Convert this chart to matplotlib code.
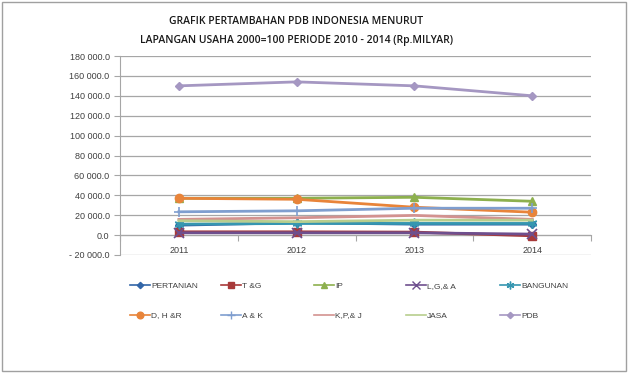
import matplotlib
matplotlib.use('Agg')
import matplotlib.pyplot as plt
from matplotlib.patches import Rectangle
from matplotlib.lines import Line2D
from matplotlib.ticker import FuncFormatter, FixedLocator
import numpy as np

# data (Rp. milyar)
years = ['2011', '2012', '2013', '2014']
series = ['PERTANIAN', 'T &G', 'IP', 'L,G,& A', 'BANGUNAN',
          'D, H &R', 'A & K', 'K,P,& J', 'JASA', 'PDB']
pertanian = [10000, 12400, 11000, 11000]
t_g = [3300, 3300, 3000, -700]
ip = [37000, 37000, 38000, 34000]
lga = [2300, 2300, 2300, 1000]
bangunan = [11000, 11700, 11700, 11700]
dhr = [37000, 36000, 28000, 23000]
a_k = [23400, 24400, 27000, 27000]
kpj = [15800, 17400, 19800, 15800]
jasa = [14400, 13500, 15000, 15000]
pdb = [150000, 154000, 150000, 140000]
values = [pertanian, t_g, ip, lga, bangunan, dhr, a_k, kpj, jasa, pdb]

colors = ['#3266A8', '#A83A3A', '#8DB04E', '#6E4F8E', '#3596B0',
          '#E8843A', '#7F9ECF', '#D39290', '#B8CE8E', '#A597C2']
markers = ['D', 's', '^', 'x', (6, 2, 0), 'o', '+', None, None, 'D']
msizes = [4, 6, 6, 7, 7, 6, 7, 0, 0, 4]

plt.rcParams['font.family'] = ['Liberation Sans', 'DejaVu Sans']

fig = plt.figure(figsize=(6.4, 3.85), dpi=100)
fig.patches.append(Rectangle((2/640, 1-371/385), 624/640, 369/385, transform=fig.transFigure,
                             fill=False, edgecolor='#A0A0A0', lw=1))

ax = fig.add_axes([120/640, 1-255/385, 471/640, 199/385])
x = np.arange(len(years)) + 0.5
for i in range(len(series)):
    ax.plot(x, values[i], color=colors[i], lw=2, marker=markers[i], ms=msizes[i],
            mew=1.2 if markers[i] in ('x', '+', (6, 2, 0)) else 1,
            zorder=3)

ax.set_xlim(0, 4)
ax.set_ylim(-20000, 180000)
ax.set_yticks(np.arange(-20000, 180001, 20000))

def fmt(v, pos):
    if v == 0:
        return '0.0'
    s = '{:,.1f}'.format(abs(v)).replace(',', ' ')
    return '- ' + s if v < 0 else s
ax.yaxis.set_major_formatter(FuncFormatter(fmt))
ax.grid(axis='y', color='#A6A6A6', lw=0.9)
ax.set_axisbelow(True)

ax.spines['top'].set_visible(False)
ax.spines['right'].set_visible(False)
ax.spines['bottom'].set_position(('data', 0))
ax.spines['bottom'].set_color('#A6A6A6')
ax.spines['left'].set_color('#A6A6A6')

ax.xaxis.set_major_locator(FixedLocator([0, 1, 2, 3, 4]))
ax.xaxis.set_minor_locator(FixedLocator(list(x)))
ax.set_xticklabels([])
ax.set_xticklabels(years, minor=True)
ax.tick_params(axis='x', which='major', length=4, color='#A6A6A6', direction='out')
ax.tick_params(axis='x', which='minor', length=0, pad=8, labelsize=6.5, labelcolor='#404040')
ax.tick_params(axis='y', length=4, color='#A6A6A6', labelsize=6.5, labelcolor='#404040')

fig.text(0.463, 1-22/385, 'GRAFIK PERTAMBAHAN PDB INDONESIA MENURUT',
         ha='center', va='center', fontsize=7.5, color='#1A1A1A', fontweight='semibold',
         family=['Open Sans', 'DejaVu Sans'])
fig.text(0.463, 1-40/385, 'LAPANGAN USAHA 2000=100 PERIODE 2010 - 2014 (Rp.MILYAR)',
         ha='center', va='center', fontsize=7.5, color='#1A1A1A', fontweight='semibold',
         family=['Open Sans', 'DejaVu Sans'])

# legend: 5 columns of 2 rows, thin handles
handles = [Line2D([], [], color=colors[i], lw=1.2, marker=markers[i], ms=msizes[i] * 0.8,
                  mew=1) for i in range(len(series))]
col_x = [126, 217, 310, 402, 496]
for c in range(5):
    leg = fig.legend([handles[c], handles[c + 5]], [series[c], series[c + 5]],
                     loc='upper left', bbox_to_anchor=(col_x[c]/640, 1-278/385),
                     frameon=False, fontsize=6, handlelength=2.4, handletextpad=0.1,
                     labelspacing=2.6, borderpad=0)
    for t in leg.get_texts():
        t.set_color('#404040')

plt.savefig('out.png', dpi=100)
